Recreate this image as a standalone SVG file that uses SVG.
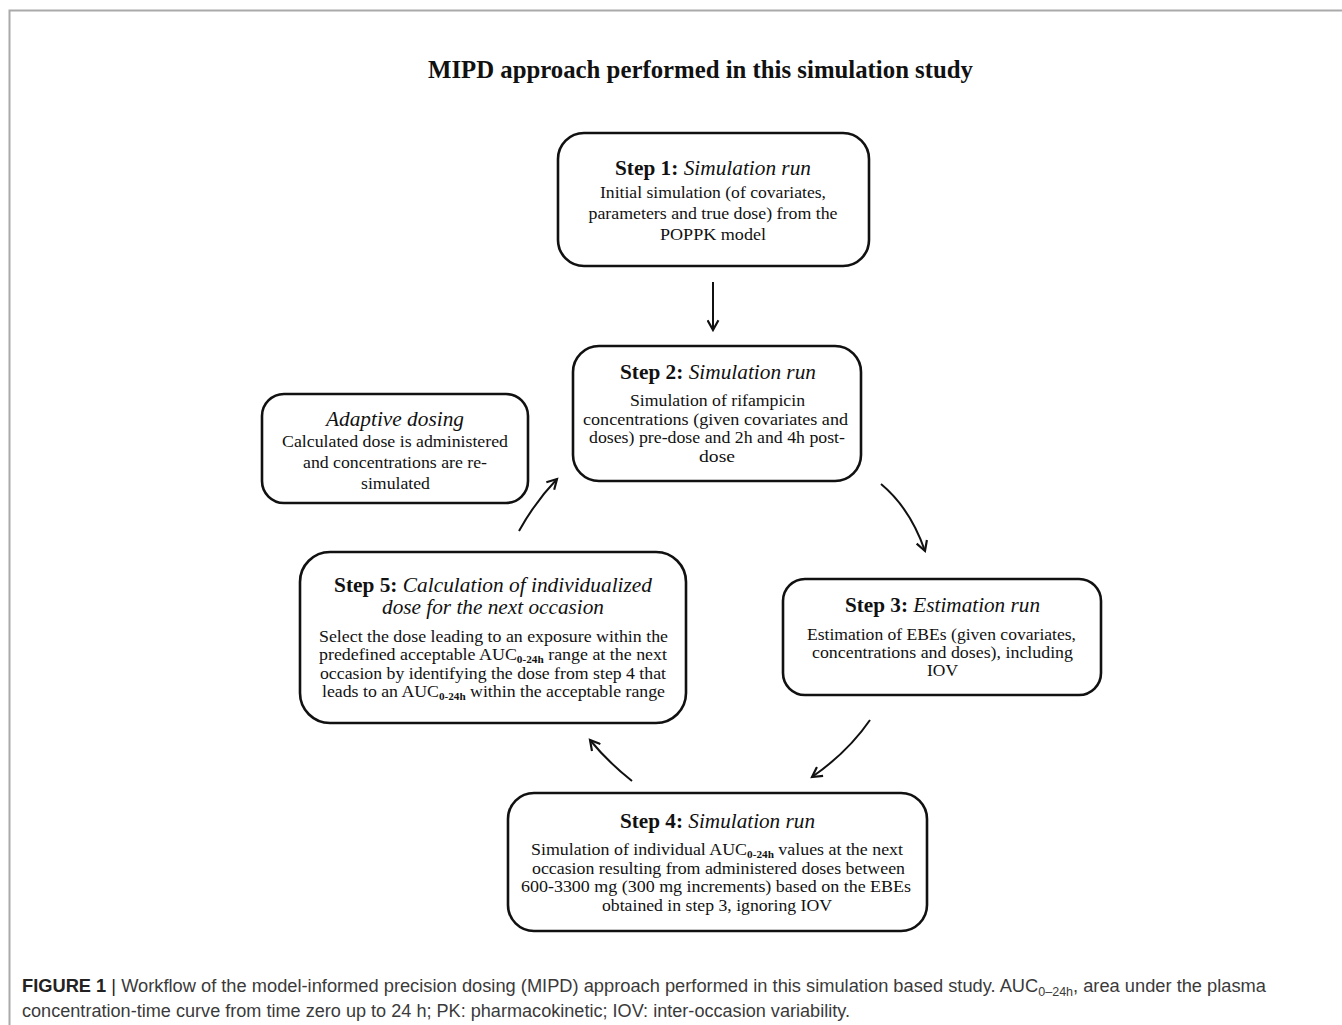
<svg xmlns="http://www.w3.org/2000/svg" width="1342" height="1025" viewBox="0 0 1342 1025">
<defs>
<style>
.box{fill:#fff;stroke:#111;stroke-width:2.6}
.t{font-family:"Liberation Serif","Times New Roman",serif;fill:#111;text-anchor:middle}
.ti{font-size:21px}
.b{font-size:17.5px}
.bd{font-weight:bold;font-style:normal}
.it{font-style:italic;font-weight:normal}
.sub{font-size:11px;font-weight:bold}
.con{fill:none;stroke:#111;stroke-width:2}
.cap{font-family:"Liberation Sans",Arial,sans-serif;font-size:17.5px;fill:#3a3a3a}
</style>
<marker id="ah" viewBox="0 0 12 12" refX="10" refY="6" markerWidth="6.5" markerHeight="6.5" markerUnits="strokeWidth" orient="auto">
<path d="M1,1 L10,6 L1,11" fill="none" stroke="#111" stroke-width="2"/>
</marker>
</defs>
<rect width="1342" height="1025" fill="#fff"/>
<path d="M9.5,1025 V10.5 H1342" fill="none" stroke="#aaa" stroke-width="2"/>

<text class="t" x="700.5" y="78" font-size="24.5" font-weight="bold" textLength="545" lengthAdjust="spacingAndGlyphs">MIPD approach performed in this simulation study</text>

<g id="connectors">
<line class="con" x1="713" y1="282" x2="713" y2="330" marker-end="url(#ah)"/>
<path class="con" d="M881,484 Q910,508 925,551" marker-end="url(#ah)"/>
<path class="con" d="M870,720 Q848,752 812,777" marker-end="url(#ah)"/>
<path class="con" d="M632,781 Q608,762 590,740" marker-end="url(#ah)"/>
<path class="con" d="M519,531 Q535,502 557,479" marker-end="url(#ah)"/>
</g>

<g id="step1">
<rect class="box" x="558" y="133" width="311" height="133" rx="26"/>
<text class="t ti" x="713" y="175" textLength="196" lengthAdjust="spacingAndGlyphs"><tspan class="bd">Step 1: </tspan><tspan class="it">Simulation run</tspan></text>
<text class="t b" x="713" y="198" textLength="226" lengthAdjust="spacingAndGlyphs">Initial simulation (of covariates,</text>
<text class="t b" x="713" y="219" textLength="249" lengthAdjust="spacingAndGlyphs">parameters and true dose) from the</text>
<text class="t b" x="713" y="240" textLength="106" lengthAdjust="spacingAndGlyphs">POPPK model</text>
</g>

<g id="step2">
<rect class="box" x="573" y="346" width="288" height="135" rx="26"/>
<text class="t ti" x="718" y="379" textLength="196" lengthAdjust="spacingAndGlyphs"><tspan class="bd">Step 2: </tspan><tspan class="it">Simulation run</tspan></text>
<text class="t b" x="717.5" y="406" textLength="175" lengthAdjust="spacingAndGlyphs">Simulation of rifampicin</text>
<text class="t b" x="715.5" y="425" textLength="265" lengthAdjust="spacingAndGlyphs">concentrations (given covariates and</text>
<text class="t b" x="717" y="443" textLength="256" lengthAdjust="spacingAndGlyphs">doses) pre-dose and 2h and 4h post-</text>
<text class="t b" x="717" y="462" textLength="36" lengthAdjust="spacingAndGlyphs">dose</text>
</g>

<g id="adaptive">
<rect class="box" x="262" y="394" width="266" height="109" rx="22"/>
<text class="t ti it" x="395" y="426" textLength="138" lengthAdjust="spacingAndGlyphs">Adaptive dosing</text>
<text class="t b" x="395" y="447" textLength="226" lengthAdjust="spacingAndGlyphs">Calculated dose is administered</text>
<text class="t b" x="395" y="468" textLength="184" lengthAdjust="spacingAndGlyphs">and concentrations are re-</text>
<text class="t b" x="395.5" y="489" textLength="69" lengthAdjust="spacingAndGlyphs">simulated</text>
</g>

<g id="step5">
<rect class="box" x="300" y="552" width="386" height="171" rx="30"/>
<text class="t ti" x="493" y="592" textLength="318" lengthAdjust="spacingAndGlyphs"><tspan class="bd">Step 5: </tspan><tspan class="it">Calculation of individualized</tspan></text>
<text class="t ti it" x="493" y="614" textLength="222" lengthAdjust="spacingAndGlyphs">dose for the next occasion</text>
<text class="t b" x="493.5" y="642" textLength="349" lengthAdjust="spacingAndGlyphs">Select the dose leading to an exposure within the</text>
<text class="t b" x="493" y="660" textLength="348" lengthAdjust="spacingAndGlyphs">predefined acceptable AUC<tspan class="sub" dy="3">0-24h</tspan><tspan dy="-3"> range at the next</tspan></text>
<text class="t b" x="493" y="679" textLength="346" lengthAdjust="spacingAndGlyphs">occasion by identifying the dose from step 4 that</text>
<text class="t b" x="493.5" y="697" textLength="343" lengthAdjust="spacingAndGlyphs">leads to an AUC<tspan class="sub" dy="3">0-24h</tspan><tspan dy="-3"> within the acceptable range</tspan></text>
</g>

<g id="step3">
<rect class="box" x="783" y="579" width="318" height="116" rx="22"/>
<text class="t ti" x="942.5" y="612" textLength="195" lengthAdjust="spacingAndGlyphs"><tspan class="bd">Step 3: </tspan><tspan class="it">Estimation run</tspan></text>
<text class="t b" x="941.5" y="640" textLength="269" lengthAdjust="spacingAndGlyphs">Estimation of EBEs (given covariates,</text>
<text class="t b" x="942.5" y="658" textLength="261" lengthAdjust="spacingAndGlyphs">concentrations and doses), including</text>
<text class="t b" x="942.5" y="676" textLength="31" lengthAdjust="spacingAndGlyphs">IOV</text>
</g>

<g id="step4">
<rect class="box" x="508" y="793" width="419" height="138" rx="26"/>
<text class="t ti" x="717.5" y="828" textLength="195" lengthAdjust="spacingAndGlyphs"><tspan class="bd">Step 4: </tspan><tspan class="it">Simulation run</tspan></text>
<text class="t b" x="717" y="855" textLength="372" lengthAdjust="spacingAndGlyphs">Simulation of individual AUC<tspan class="sub" dy="3">0-24h</tspan><tspan dy="-3"> values at the next</tspan></text>
<text class="t b" x="718.5" y="874" textLength="373" lengthAdjust="spacingAndGlyphs">occasion resulting from administered doses between</text>
<text class="t b" x="716" y="892" textLength="390" lengthAdjust="spacingAndGlyphs">600-3300 mg (300 mg increments) based on the EBEs</text>
<text class="t b" x="717" y="911" textLength="230" lengthAdjust="spacingAndGlyphs">obtained in step 3, ignoring IOV</text>
</g>

<text class="cap" x="22" y="992" textLength="1244" lengthAdjust="spacingAndGlyphs"><tspan font-weight="bold" fill="#222">FIGURE 1</tspan><tspan fill="#222"> | </tspan>Workflow of the model-informed precision dosing (MIPD) approach performed in this simulation based study. AUC<tspan font-size="12" dy="4">0–24h</tspan><tspan dy="-4">, area under the plasma</tspan></text>
<text class="cap" x="22" y="1017" textLength="828" lengthAdjust="spacingAndGlyphs">concentration-time curve from time zero up to 24 h; PK: pharmacokinetic; IOV: inter-occasion variability.</text>
</svg>
